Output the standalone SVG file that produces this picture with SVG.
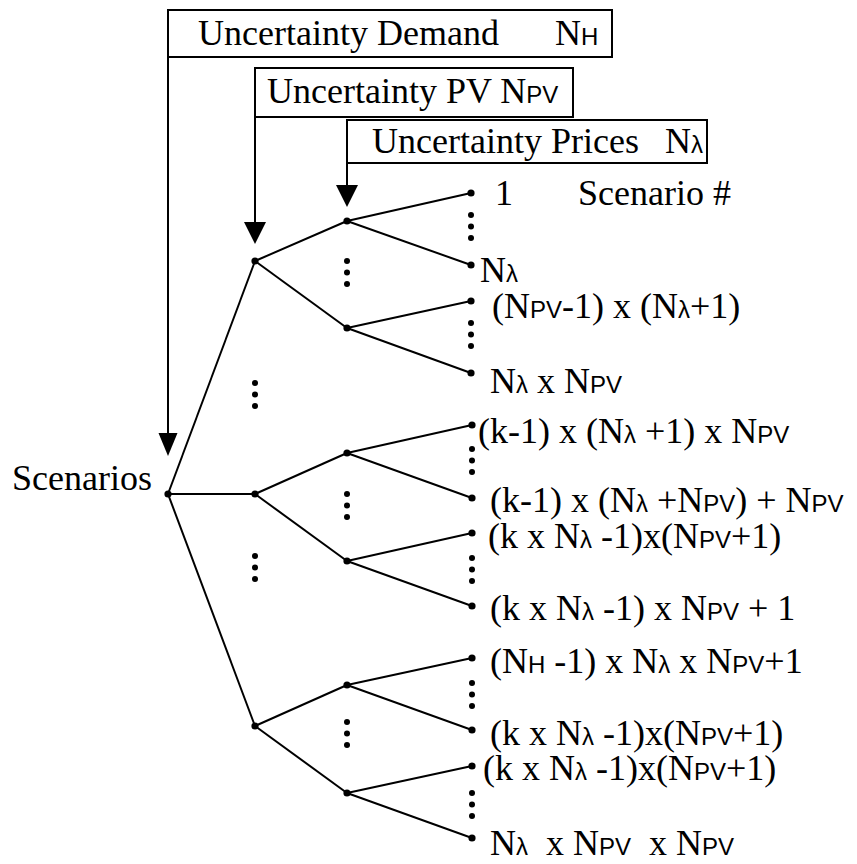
<svg xmlns="http://www.w3.org/2000/svg" width="857" height="864" viewBox="0 0 857 864">
<style>
.t{font-family:"Liberation Serif","Times New Roman",serif;font-size:36px;fill:#000;white-space:pre}
.s{font-family:"Liberation Sans",Arial,sans-serif;font-size:24px}
.box{fill:#fff;stroke:#000;stroke-width:2}
.ln{stroke:#000;stroke-width:2;fill:none}
.nd{fill:#000}
.ah{fill:#000;stroke:none}
</style>
<defs>
<circle id="dot" r="3.6" class="nd"/>
<g id="ell"><circle cy="0" r="3" class="nd"/><circle cy="11.5" r="3" class="nd"/><circle cy="23" r="3" class="nd"/></g>
</defs>
<rect width="857" height="864" fill="#fff"/>

<g id="connectors">
<!-- header arrows -->
<line class="ln" x1="168" y1="57" x2="168" y2="440"/>
<polygon class="ah" points="158.5,433 177.5,433 168,456"/>
<line class="ln" x1="255" y1="117" x2="255" y2="230"/>
<polygon class="ah" points="244,222 266,222 255,244"/>
<line class="ln" x1="347" y1="163" x2="347" y2="192"/>
<polygon class="ah" points="336,185 358,185 347,207"/>
<!-- tree -->
<line class="ln" x1="168" y1="494" x2="255" y2="261"/>
<line class="ln" x1="168" y1="494" x2="255" y2="494"/>
<line class="ln" x1="168" y1="494" x2="255" y2="726"/>
<line class="ln" x1="255" y1="261" x2="347" y2="221"/>
<line class="ln" x1="255" y1="261" x2="347" y2="328"/>
<line class="ln" x1="255" y1="494" x2="347" y2="453"/>
<line class="ln" x1="255" y1="494" x2="347" y2="561"/>
<line class="ln" x1="255" y1="726" x2="347" y2="685"/>
<line class="ln" x1="255" y1="726" x2="347" y2="793"/>
<line class="ln" x1="347" y1="221" x2="471" y2="193"/>
<line class="ln" x1="347" y1="221" x2="471" y2="265"/>
<line class="ln" x1="347" y1="328" x2="471" y2="301"/>
<line class="ln" x1="347" y1="328" x2="471" y2="373"/>
<line class="ln" x1="347" y1="453" x2="472" y2="425"/>
<line class="ln" x1="347" y1="453" x2="472" y2="498"/>
<line class="ln" x1="347" y1="561" x2="472" y2="533"/>
<line class="ln" x1="347" y1="561" x2="472" y2="606"/>
<line class="ln" x1="347" y1="685" x2="472" y2="658"/>
<line class="ln" x1="347" y1="685" x2="472" y2="730"/>
<line class="ln" x1="347" y1="793" x2="472" y2="766"/>
<line class="ln" x1="347" y1="793" x2="472" y2="838"/>
</g>

<g id="hdr-demand">
<rect class="box" x="168" y="10" width="444" height="47"/>
<text class="t" x="198" y="45">Uncertainty Demand</text>
<text class="t" x="555" y="45">N<tspan class="s">H</tspan></text>
</g>
<g id="hdr-pv">
<rect class="box" x="255" y="68" width="318" height="49"/>
<text class="t" x="267" y="103">Uncertainty PV N<tspan class="s">PV</tspan></text>
</g>
<g id="hdr-prices">
<rect class="box" x="347" y="120" width="360" height="43"/>
<text class="t" x="372" y="153">Uncertainty Prices</text>
<text class="t" x="665" y="153">N<tspan class="s">λ</tspan></text>
</g>

<g id="root">
<use href="#dot" x="168" y="494"/>
<text class="t" x="12" y="490">Scenarios</text>
</g>

<g id="demand-nodes">
<use href="#dot" x="255" y="261"/>
<use href="#dot" x="255" y="494"/>
<use href="#dot" x="255" y="726"/>
<use href="#ell" x="255" y="383"/>
<use href="#ell" x="255" y="556"/>
</g>

<g id="pv-nodes">
<use href="#dot" x="347" y="221"/>
<use href="#dot" x="347" y="328"/>
<use href="#dot" x="347" y="453"/>
<use href="#dot" x="347" y="561"/>
<use href="#dot" x="347" y="685"/>
<use href="#dot" x="347" y="793"/>
<use href="#ell" x="347" y="261"/>
<use href="#ell" x="347" y="494"/>
<use href="#ell" x="347" y="722"/>
</g>

<g id="scenario-header">
<text class="t" x="578" y="205">Scenario #</text>
</g>

<g id="leaf-1"><use href="#dot" x="471" y="193"/><text class="t" x="495" y="205">1</text></g>
<g id="ell-a1"><use href="#ell" x="471" y="215"/></g>
<g id="leaf-2"><use href="#dot" x="471" y="265"/><text class="t" x="480" y="282">N<tspan class="s">λ</tspan></text></g>
<g id="leaf-3"><use href="#dot" x="471" y="301"/><text class="t" x="492" y="318">(N<tspan class="s">PV</tspan>-1) x (N<tspan class="s">λ</tspan>+1)</text></g>
<g id="ell-a2"><use href="#ell" x="471" y="323"/></g>
<g id="leaf-4"><use href="#dot" x="471" y="373"/><text class="t" x="490" y="393">N<tspan class="s">λ</tspan> x N<tspan class="s">PV</tspan></text></g>

<g id="leaf-5"><use href="#dot" x="472" y="425"/><text class="t" x="478" y="443">(k-1) x (N<tspan class="s">λ</tspan> +1) x N<tspan class="s">PV</tspan></text></g>
<g id="ell-b1"><use href="#ell" x="472" y="449"/></g>
<g id="leaf-6"><use href="#dot" x="472" y="498"/><text class="t" x="490" y="512">(k-1) x (N<tspan class="s">λ</tspan> +N<tspan class="s">PV</tspan>) + N<tspan class="s">PV</tspan></text></g>
<g id="leaf-7"><use href="#dot" x="472" y="533"/><text class="t" x="488" y="548">(k x N<tspan class="s">λ</tspan> -1)x(N<tspan class="s">PV</tspan>+1)</text></g>
<g id="ell-b2"><use href="#ell" x="472" y="558"/></g>
<g id="leaf-8"><use href="#dot" x="472" y="606"/><text class="t" x="490" y="620">(k x N<tspan class="s">λ</tspan> -1) x N<tspan class="s">PV</tspan> + 1</text></g>

<g id="leaf-9"><use href="#dot" x="472" y="658"/><text class="t" x="490" y="673">(N<tspan class="s">H</tspan> -1) x N<tspan class="s">λ</tspan> x N<tspan class="s">PV</tspan>+1</text></g>
<g id="ell-c1"><use href="#ell" x="472" y="683"/></g>
<g id="leaf-10"><use href="#dot" x="472" y="730"/><text class="t" x="490" y="745">(k x N<tspan class="s">λ</tspan> -1)x(N<tspan class="s">PV</tspan>+1)</text></g>
<g id="leaf-11"><use href="#dot" x="472" y="766"/><text class="t" x="483" y="780">(k x N<tspan class="s">λ</tspan> -1)x(N<tspan class="s">PV</tspan>+1)</text></g>
<g id="ell-c2"><use href="#ell" x="472" y="793"/></g>
<g id="leaf-12"><use href="#dot" x="472" y="838"/><text class="t" x="490" y="855">N<tspan class="s">λ</tspan>  x N<tspan class="s">PV</tspan>  x N<tspan class="s">PV</tspan></text></g>
</svg>
